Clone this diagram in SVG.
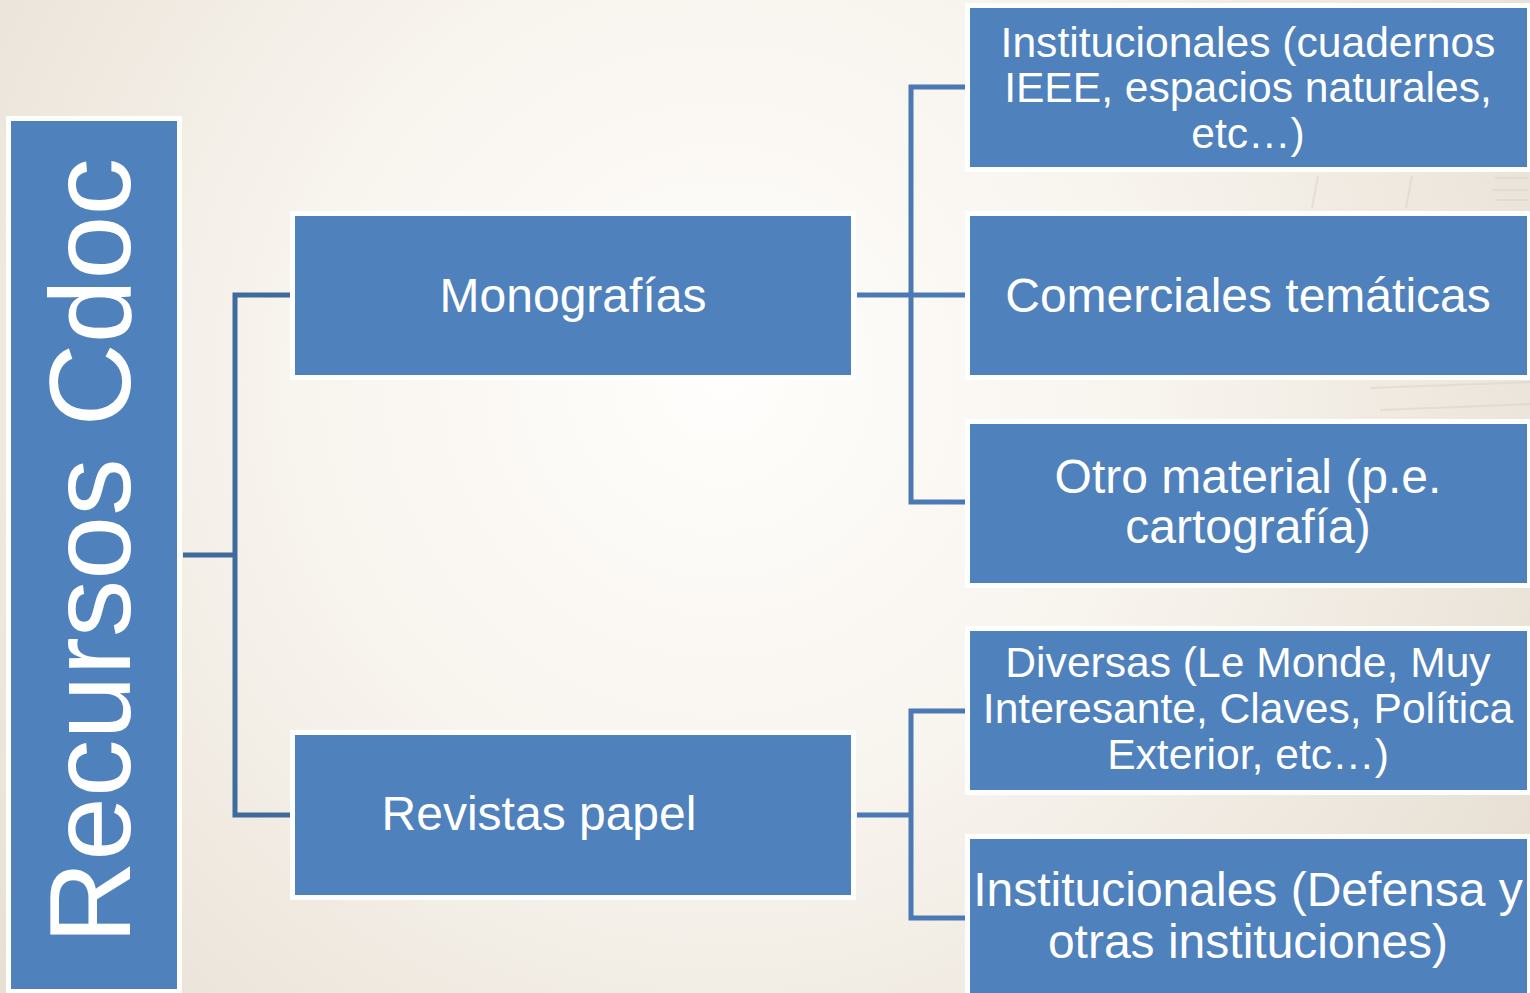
<svg xmlns="http://www.w3.org/2000/svg" width="1530" height="993" viewBox="0 0 1530 993">
  <defs>
    <radialGradient id="bg" cx="720" cy="380" r="950" gradientUnits="userSpaceOnUse">
      <stop offset="0" stop-color="#FFFEFC"/>
      <stop offset="0.45" stop-color="#F8F4EE"/>
      <stop offset="1" stop-color="#E7DFD3"/>
    </radialGradient>
    <style>
      .box { fill: #4F81BD; stroke: #FFFFFF; stroke-width: 5; }
      .t { fill: #FFFFFF; font-family: "Liberation Sans", Arial, sans-serif; text-anchor: middle; }
      .t48 { font-size: 48px; }
      .t42 { font-size: 42.6px; }
      .c1 { fill: none; stroke: #3F6B9C; stroke-width: 5; stroke-linejoin: miter; }
      .c2 { fill: none; stroke: #4A79B3; stroke-width: 5; stroke-linejoin: miter; }
    </style>
  </defs>
  <rect x="0" y="0" width="1530" height="993" fill="url(#bg)"/>
  <g id="sketch" fill="none" stroke="#D9D2C8" stroke-width="2" opacity="0.5">
    <path d="M1318,176 L1312,208"/>
    <path d="M1412,176 L1406,208"/>
    <path d="M1495,178 L1528,178 M1492,190 L1528,190 M1497,200 L1528,200"/>
    <path d="M1370,388 L1530,382 M1380,410 L1530,404"/>
  </g>
  <g id="connectors">
    <path class="c1" d="M183,555 H235"/>
    <path class="c1" d="M290,295 H235 V815 H290"/>
    <path class="c2" d="M857,295 H965"/>
    <path class="c2" d="M965,87 H911 V502 H965"/>
    <path class="c2" d="M857,815 H911"/>
    <path class="c2" d="M965,711 H911 V918 H965"/>
  </g>
  <g id="root">
    <rect class="box" x="8.5" y="118.5" width="171" height="873"/>
    <text class="t" font-size="115" transform="translate(130,551) rotate(-90)" x="0" y="0">Recursos Cdoc</text>
  </g>
  <g id="monografias">
    <rect class="box" x="292.5" y="213.5" width="561" height="164"/>
    <text class="t t48" x="573" y="312">Monografías</text>
  </g>
  <g id="revistas">
    <rect class="box" x="292.5" y="732.5" width="561" height="165"/>
    <text class="t t48" x="539" y="830">Revistas papel</text>
  </g>
  <g id="institucionales1">
    <rect class="box" x="967.5" y="5.5" width="562" height="164"/>
    <text class="t t42" x="1248" y="57">Institucionales (cuadernos</text>
    <text class="t t42" x="1248" y="102">IEEE, espacios naturales,</text>
    <text class="t t42" x="1248" y="148">etc…)</text>
  </g>
  <g id="comerciales">
    <rect class="box" x="967.5" y="213.5" width="562" height="164"/>
    <text class="t t48" x="1248" y="312">Comerciales temáticas</text>
  </g>
  <g id="otro">
    <rect class="box" x="967.5" y="421.5" width="562" height="164"/>
    <text class="t t48" x="1248" y="493">Otro material (p.e.</text>
    <text class="t t48" x="1248" y="543">cartografía)</text>
  </g>
  <g id="diversas">
    <rect class="box" x="967.5" y="628.5" width="562" height="164"/>
    <text class="t t42" x="1248" y="677">Diversas (Le Monde, Muy</text>
    <text class="t t42" x="1248" y="723">Interesante, Claves, Política</text>
    <text class="t t42" x="1248" y="769">Exterior, etc…)</text>
  </g>
  <g id="institucionales2">
    <rect class="box" x="967.5" y="836.5" width="562" height="164"/>
    <text class="t t48" x="1248" y="906">Institucionales (Defensa y</text>
    <text class="t t48" x="1248" y="958">otras instituciones)</text>
  </g>
</svg>
